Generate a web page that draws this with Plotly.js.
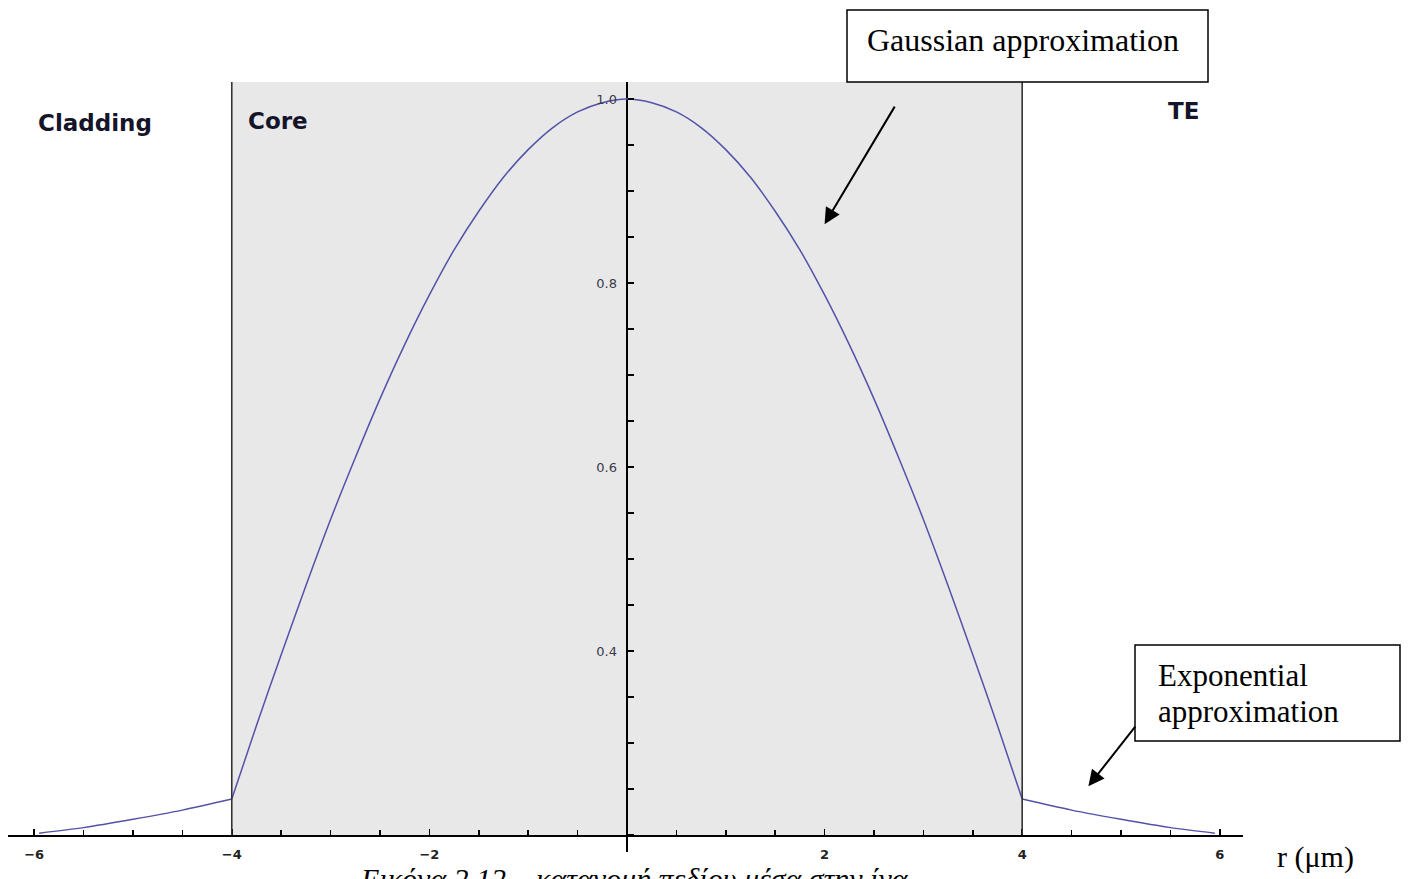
<!DOCTYPE html>
<html>
<head>
<meta charset="utf-8">
<script src="https://cdn.plot.ly/plotly-3.0.1.min.js"></script>
<style>
  html, body { margin: 0; padding: 0; background: #ffffff; }
  #chart { width: 1409px; height: 879px; }
</style>
</head>
<body>
<div id="chart"></div>
<script>
// ---------------- data ----------------
const rCladLeft = [-5.95, -5.5, -5, -4.5, -4];
const fieldCladLeft = [0.202, 0.208, 0.217, 0.227, 0.239];
const rCore = [-4, -3.75, -3.5, -3.25, -3, -2.75, -2.5, -2.25, -2, -1.75, -1.5, -1.25, -1, -0.75, -0.5, -0.25,
  0, 0.25, 0.5, 0.75, 1, 1.25, 1.5, 1.75, 2, 2.25, 2.5, 2.75, 3, 3.25, 3.5, 3.75, 4];
const fieldCore = [0.239, 0.319, 0.396, 0.471, 0.543, 0.610, 0.674, 0.733, 0.787, 0.836, 0.878, 0.915, 0.945, 0.969, 0.986, 0.996,
  1.000, 0.996, 0.986, 0.969, 0.945, 0.915, 0.878, 0.836, 0.787, 0.733, 0.674, 0.610, 0.543, 0.471, 0.396, 0.319, 0.239];
const rCladRight = [4, 4.5, 5, 5.5, 5.95];
const fieldCladRight = [0.239, 0.227, 0.217, 0.208, 0.202];
const coreEdges = [-4, 4];
const xTickVals = [-6, -4, -2, 0, 2, 4, 6];
const xTickText = ['\u22126', '\u22124', '\u22122', '', '2', '4', '6'];
const yTickVals = [0.4, 0.6, 0.8, 1.0];
const yTickText = ['0.4', '0.6', '0.8', '1.0'];
const regionLabels = ['Cladding', 'Core', 'TE'];
const boxTexts = ['Gaussian approximation', 'Exponential', 'approximation'];
const axisLabel = 'r (\u03bcm)';
const caption = '\u0395\u03b9\u03ba\u03cc\u03bd\u03b1 2.12 \u2013 \u03ba\u03b1\u03c4\u03b1\u03bd\u03bf\u03bc\u03ae \u03c0\u03b5\u03b4\u03af\u03bf\u03c5 \u03bc\u03ad\u03c3\u03b1 \u03c3\u03c4\u03b7\u03bd \u03af\u03bd\u03b1';

// ---------------- geometry ----------------
const W = 1409, H = 879;
const M = {l: 8, r: 166, t: 82, b: 27};
const plotW = W - M.l - M.r, plotH = H - M.t - M.b;
const px2x = px => (px - M.l) / plotW;
const py2y = py => (H - M.b - py) / plotH;
const xRange = [-6.265, 6.235];
const yRange = [0.1815, 1.0185];
const yBase = 0.2;

const serif = 'Liberation Serif, Times New Roman, serif';
const sans = 'DejaVu Sans, Verdana, sans-serif';
const lineStyle = {color: '#5252a8', width: 1.5, shape: 'spline', smoothing: 0.8};

const traces = [
  {x: rCladLeft, y: fieldCladLeft},
  {x: rCore, y: fieldCore},
  {x: rCladRight, y: fieldCladRight}
].map(t => Object.assign(t, {type: 'scatter', mode: 'lines', line: lineStyle,
  hoverinfo: 'skip', showlegend: false, cliponaxis: false}));

const shapes = [
  {type: 'rect', xref: 'x', yref: 'y', x0: coreEdges[0], x1: coreEdges[1], y0: yBase, y1: yRange[1],
   fillcolor: '#e8e8e8', line: {width: 0}, layer: 'below'},
  {type: 'line', xref: 'x', yref: 'y', x0: coreEdges[0], x1: coreEdges[0], y0: yBase, y1: yRange[1],
   line: {color: '#333333', width: 1.6}, layer: 'above'},
  {type: 'line', xref: 'x', yref: 'y', x0: coreEdges[1], x1: coreEdges[1], y0: yBase, y1: yRange[1],
   line: {color: '#333333', width: 1.6}, layer: 'above'},
  // annotation boxes
  {type: 'rect', xref: 'paper', yref: 'paper', x0: px2x(847), x1: px2x(1208), y0: py2y(82), y1: py2y(10),
   fillcolor: '#ffffff', line: {color: '#000000', width: 1.5}, layer: 'above'},
  {type: 'rect', xref: 'paper', yref: 'paper', x0: px2x(1135), x1: px2x(1400), y0: py2y(741), y1: py2y(645),
   fillcolor: '#ffffff', line: {color: '#000000', width: 1.5}, layer: 'above'}
];

const annotations = [
  // region labels
  {text: regionLabels[0], xref: 'paper', yref: 'paper', x: px2x(36), y: py2y(123), xanchor: 'left', yanchor: 'middle',
   showarrow: false, font: {family: sans, size: 23, color: '#15152a', weight: 'bold'}},
  {text: regionLabels[1], xref: 'paper', yref: 'paper', x: px2x(246), y: py2y(121), xanchor: 'left', yanchor: 'middle',
   showarrow: false, font: {family: sans, size: 23, color: '#15152a', weight: 'bold'}},
  {text: regionLabels[2], xref: 'paper', yref: 'paper', x: px2x(1166), y: py2y(111), xanchor: 'left', yanchor: 'middle',
   showarrow: false, font: {family: sans, size: 23, color: '#15152a', weight: 'bold'}},
  // box texts
  {text: boxTexts[0], xref: 'paper', yref: 'paper', x: px2x(1023), y: py2y(40), xanchor: 'center', yanchor: 'middle',
   showarrow: false, font: {family: serif, size: 32, color: '#000000'}},
  {text: boxTexts[1], xref: 'paper', yref: 'paper', x: px2x(1156), y: py2y(675), xanchor: 'left', yanchor: 'middle',
   showarrow: false, font: {family: serif, size: 31, color: '#000000'}},
  {text: boxTexts[2], xref: 'paper', yref: 'paper', x: px2x(1156), y: py2y(711), xanchor: 'left', yanchor: 'middle',
   showarrow: false, font: {family: serif, size: 31, color: '#000000'}},
  // arrows
  {text: '', xref: 'x', yref: 'y', x: 2.0, y: 0.864, ax: 71, ay: -119, showarrow: true,
   arrowhead: 2, arrowsize: 1.6, arrowwidth: 2, arrowcolor: '#000000', standoff: 0},
  {text: '', xref: 'x', yref: 'y', x: 4.67, y: 0.253, ax: 48, ay: -61, showarrow: true,
   arrowhead: 2, arrowsize: 1.6, arrowwidth: 2, arrowcolor: '#000000', standoff: 0},
  // axis label
  {text: axisLabel, xref: 'paper', yref: 'paper', x: px2x(1275), y: py2y(857), xanchor: 'left', yanchor: 'middle',
   showarrow: false, font: {family: serif, size: 30, color: '#000000'}},
  // caption (cut by the page edge, as in the reference)
  {text: caption, xref: 'paper', yref: 'paper', x: px2x(358), y: py2y(860), xanchor: 'left', yanchor: 'top',
   showarrow: false, font: {family: serif, size: 30, color: '#000000', style: 'italic'}}
];

const layout = {
  width: W, height: H, autosize: false,
  margin: M,
  paper_bgcolor: '#ffffff', plot_bgcolor: '#ffffff',
  showlegend: false,
  xaxis: {
    range: xRange, anchor: 'free', position: (yBase - yRange[0]) / (yRange[1] - yRange[0]),
    showgrid: false, zeroline: true, zerolinecolor: '#000000', zerolinewidth: 1.6,
    showline: true, linecolor: '#000000', linewidth: 1.6,
    tickmode: 'array', tickvals: xTickVals, ticktext: xTickText,
    ticks: 'inside', ticklen: 6, tickwidth: 1.5, tickcolor: '#000000',
    ticklabelstandoff: 7,
    minor: {tickmode: 'linear', tick0: 0, dtick: 0.5, ticks: 'inside', ticklen: 5, tickwidth: 1.5, tickcolor: '#000000', showgrid: false},
    tickfont: {family: sans, size: 13, color: '#222222', weight: 'bold'},
    fixedrange: true
  },
  yaxis: {
    range: yRange, anchor: 'free', position: (0 - xRange[0]) / (xRange[1] - xRange[0]),
    showgrid: false, zeroline: false, showline: false,
    tickmode: 'array', tickvals: yTickVals, ticktext: yTickText,
    ticks: 'inside', ticklen: 6, tickwidth: 1.5, tickcolor: '#000000',
    ticklabelstandoff: 10,
    minor: {tickmode: 'linear', tick0: 0, dtick: 0.05, ticks: 'inside', ticklen: 6, tickwidth: 1.5, tickcolor: '#000000', showgrid: false},
    tickfont: {family: sans, size: 13, color: '#3a3a4a'},
    fixedrange: true
  },
  shapes: shapes,
  annotations: annotations
};

Plotly.newPlot('chart', traces, layout, {displayModeBar: false, staticPlot: true});
</script>
</body>
</html>
